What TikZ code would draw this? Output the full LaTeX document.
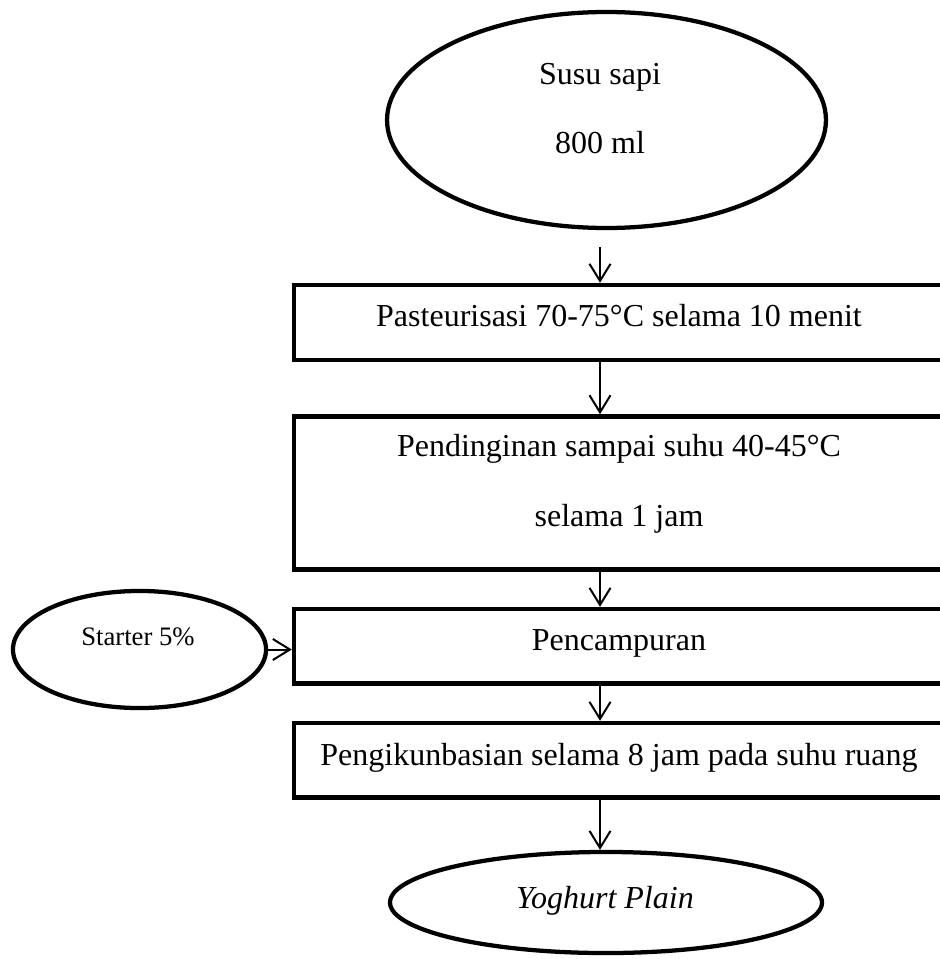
\documentclass[tikz,border=0pt]{standalone}
\usepackage{fontspec}
\setmainfont{Liberation Serif}
\usetikzlibrary{shapes.geometric,arrows.meta}
\begin{document}
\begin{tikzpicture}[x=0.375pt,y=-0.375pt,
  procbox/.style={draw,line width=1.69pt,inner sep=0pt,minimum width=244.1pt},
  ovalnode/.style={draw,ellipse,line width=1.6pt,inner sep=0pt},
  txt/.style={anchor=base,inner sep=0pt,font=\fontsize{12pt}{14pt}\selectfont},
  flow/.style={line width=0.75pt,-{Straight Barb[length=6.4pt,width=7.9pt,line width=0.75pt]}}]
\useasboundingbox (0,0) rectangle (939,959);
% shapes
\node[ovalnode,minimum width=164.6pt,minimum height=81pt] (milk) at (606.5,120) {};
\node[procbox,minimum height=28.1pt] (b1) at (619.5,322.5) {};
\node[procbox,minimum height=57.4pt] (b2) at (619.5,493) {};
\node[procbox,minimum height=27.9pt] (b3) at (619.5,646.25) {};
\node[procbox,minimum height=27.9pt] (b4) at (619.5,760.25) {};
\node[ovalnode,minimum width=94.9pt,minimum height=43.9pt] (starter) at (139.5,649.5) {};
\node[ovalnode,minimum width=162pt,minimum height=37.9pt] (yog) at (606,902.5) {};
% texts
\node[txt] (t1) at (600,85) {Susu sapi};
\node[txt] (t2) at (600,154) {800 ml};
\node[txt] (t3) at (619,326.7) {Pasteurisasi 70-75°C selama 10 menit};
\node[txt] (t4) at (619,456.7) {Pendinginan sampai suhu 40-45°C};
\node[txt] (t5) at (619,526.7) {selama 1 jam};
\node[txt] (t6) at (619,650) {Pencampuran};
\node[txt] (t7) at (619,765) {Pengikunbasian selama 8 jam pada suhu ruang};
\node[txt,font=\fontsize{10pt}{12pt}\selectfont] (t8) at (138,645) {Starter 5\%};
\node[txt,font=\fontsize{12pt}{14pt}\selectfont\itshape] (t9) at (605,908) {Yoghurt Plain};
% connectors
\coordinate (a0) at (600,247);
\draw[flow] (a0) -- (a0 |- b1.north);
\draw[flow] (a0 |- b1.south) -- (a0 |- b2.north);
\draw[flow] (a0 |- b2.south) -- (a0 |- b3.north);
\draw[flow] (a0 |- b3.south) -- (a0 |- b4.north);
\draw[flow] (a0 |- b4.south) -- (a0 |- yog.north);
\draw[flow] (starter.east) -- (starter.east -| b3.west);
\end{tikzpicture}
\end{document}
